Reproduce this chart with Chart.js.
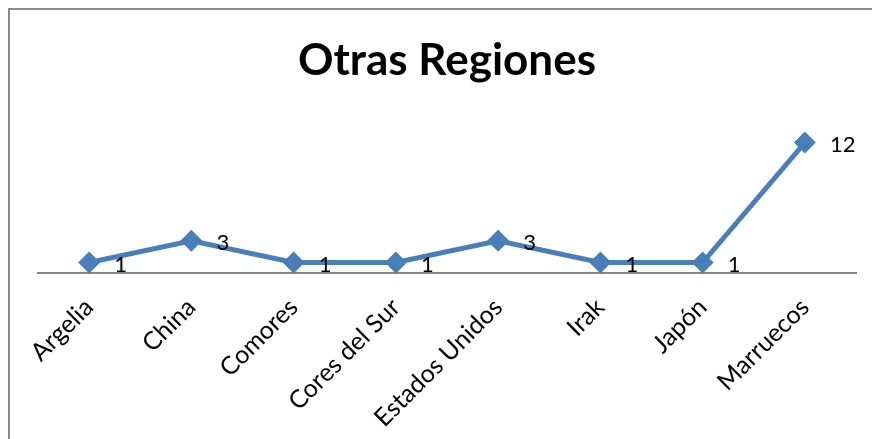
<!DOCTYPE html>
<html>
<head>
<meta charset="utf-8">
<script src="https://cdn.jsdelivr.net/npm/chart.js@4.4.0/dist/chart.umd.min.js"></script>
<style>
    html, body { margin: 0; padding: 0; background: #fff; overflow: hidden; }
    #wrap { position: relative; width: 872px; height: 439px; overflow: hidden; }
    #frame {
        position: absolute; left: 8px; top: 8px; width: 900px; height: 500px;
        border-left: 2px solid #8c8c8c; border-top: 2px solid #8c8c8c;
    }
    canvas { position: absolute; left: 0; top: 0; }
</style>
</head>
<body>
<div id="wrap">
    <div id="frame"></div>
    <canvas id="chart" width="872" height="472"></canvas>
</div>
<script>
const regiones = ['Argelia', 'China', 'Comores', 'Cores del Sur', 'Estados Unidos', 'Irak', 'Japón', 'Marruecos'];
const valores = [1, 3, 1, 1, 3, 1, 1, 12];
const chartTitle = 'Otras Regiones';

const lineColor = '#4A7EBB';
const fontFamily = 'Lato, "Open Sans", sans-serif';

// Etiquetas de valor a la derecha de cada punto
const valueLabels = {
    id: 'valueLabels',
    afterDatasetsDraw(chart) {
        const ctx = chart.ctx;
        const meta = chart.getDatasetMeta(0);
        ctx.save();
        ctx.fillStyle = '#000';
        ctx.font = '22px ' + fontFamily;
        ctx.textAlign = 'left';
        ctx.textBaseline = 'middle';
        meta.data.forEach((pt, i) => {
            ctx.fillText(String(valores[i]), pt.x + 25, pt.y + 2);
        });
        ctx.restore();
    }
};

const ctx = document.getElementById('chart').getContext('2d');
new Chart(ctx, {
    type: 'line',
    data: {
        labels: regiones,
        datasets: [{
            label: chartTitle,
            data: valores,
            borderColor: lineColor,
            backgroundColor: lineColor,
            borderWidth: 5,
            pointStyle: 'rectRot',
            pointRadius: 11,
            pointHoverRadius: 11,
            pointBackgroundColor: lineColor,
            pointBorderColor: lineColor,
            pointBorderWidth: 0,
            tension: 0,
            clip: false
        }]
    },
    options: {
        responsive: false,
        animation: false,
        events: [],
        layout: { padding: { left: 38, right: 16, top: 0, bottom: 20 } },
        plugins: {
            legend: { display: false },
            tooltip: { enabled: false },
            title: {
                display: true,
                text: chartTitle,
                color: '#000',
                font: { family: fontFamily, size: 44, weight: 'bold' },
                padding: { top: 34, bottom: 34 }
            }
        },
        scales: {
            x: {
                offset: true,
                grid: { display: false, drawTicks: false },
                border: { display: true, color: '#868686', width: 2 },
                ticks: {
                    color: '#000',
                    font: { family: fontFamily, size: 25 },
                    minRotation: 45,
                    maxRotation: 45,
                    padding: 19,
                    autoSkip: false
                }
            },
            y: {
                display: false,
                min: 0,
                max: 14
            }
        }
    },
    plugins: [valueLabels]
});
</script>
</body>
</html>
